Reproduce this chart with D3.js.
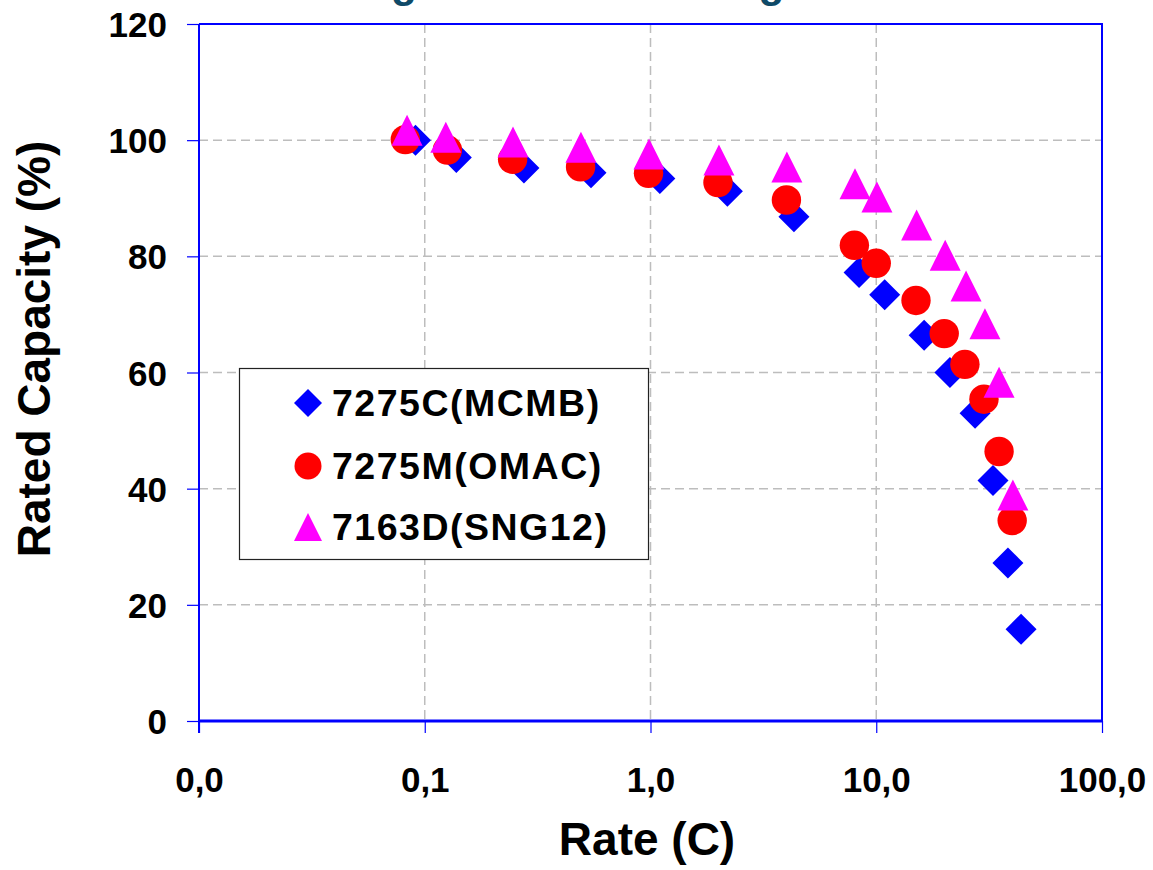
<!DOCTYPE html>
<html><head><meta charset="utf-8">
<script src="https://cdn.jsdelivr.net/npm/d3@7"></script>
<style>
html,body{margin:0;padding:0;background:#fff;}
svg{display:block;font-family:"Liberation Sans",Arial,sans-serif;}
</style></head>
<body>
<svg id="chart" width="1153" height="870"></svg>
<script>
// ---- data ----
const seriesNames = ["7275C(MCMB)", "7275M(OMAC)", "7163D(SNG12)"];
const rateC = [0.091, 0.138, 0.275, 0.545, 1.10, 2.19, 4.32, 8.39, 10.9, 16.3, 21.2, 27.4, 32.9, 38.3, 43.8];
const capC  = [100.0, 97.0, 95.2, 94.4, 93.4, 91.2, 86.8, 77.2, 73.4, 66.4, 60.0, 53.0, 41.4, 27.2, 15.8];
const rateM = [0.082, 0.126, 0.245, 0.49, 0.98, 1.99, 4.0, 8.0, 10.0, 15.0, 20.0, 24.7, 30.0, 35.0, 40.0];
const capM  = [100.1, 98.3, 96.7, 95.4, 94.3, 92.7, 89.7, 81.9, 78.8, 72.4, 66.7, 61.4, 55.4, 46.4, 34.5];
const rateD = [0.0835, 0.124, 0.246, 0.492, 0.985, 2.01, 4.02, 8.05, 10.07, 15.1, 20.2, 25.0, 30.3, 35.0, 40.3];
const capD  = [101.7, 100.5, 99.7, 98.8, 97.6, 96.6, 95.4, 92.5, 90.2, 85.4, 80.2, 74.9, 68.4, 58.3, 38.9];
const xTicks = [0.01, 0.1, 1, 10, 100];
const yTicks = [0, 20, 40, 60, 80, 100, 120];
const titleText = "Rating of New Cell Designs";

// ---- layout ----
const svg = d3.select("#chart");
const L = 199, R = 1102, T = 24, B = 721;
const x = d3.scaleLog().domain([0.01, 100]).range([L, R]);
const y = d3.scaleLinear().domain([0, 120]).range([B, T]);
const blue = "#0000ff";

// clipped title (only descenders visible)
svg.append("text").attr("x", 285).attr("y", -3)
  .attr("font-size", 42.4).attr("font-weight", "bold").attr("fill", "#0f4a68")
  .text(titleText);

// gridlines
const grid = svg.append("g");
grid.selectAll("line.h").data(yTicks.filter(v => v > 0 && v < 120)).join("line")
  .attr("x1", L).attr("x2", R).attr("y1", d => y(d)).attr("y2", d => y(d))
  .attr("stroke", "#bdbdbd").attr("stroke-width", 1.5).attr("stroke-dasharray", "9,5");
grid.selectAll("line.v").data(xTicks.slice(1, -1)).join("line")
  .attr("y1", T).attr("y2", B).attr("x1", d => x(d)).attr("x2", d => x(d))
  .attr("stroke", "#bdbdbd").attr("stroke-width", 1.5).attr("stroke-dasharray", "9,5");

// top/right border
svg.append("path").attr("d", `M${L},${T}H${R}V${B}`).attr("fill", "none")
  .attr("stroke", blue).attr("stroke-width", 2);

// x axis
const xAxis = d3.axisBottom(x).tickValues(xTicks).tickSize(12).tickSizeOuter(0)
  .tickFormat(d => d3.format(".1f")(d).replace(".", ","));
const gx = svg.append("g").attr("transform", `translate(0,${B})`).call(xAxis);
gx.select(".domain").remove();
gx.selectAll(".tick line").attr("stroke", blue).attr("stroke-width", 1.2);
gx.selectAll(".tick text").attr("y", 71).attr("dy", 0).attr("fill", "#000")
  .attr("font-size", 35).attr("font-weight", "bold").attr("font-family", "Liberation Sans, Arial, sans-serif");
svg.append("line").attr("x1", L).attr("x2", R).attr("y1", B).attr("y2", B)
  .attr("stroke", blue).attr("stroke-width", 3);

// y axis
const yAxis = d3.axisLeft(y).tickValues(yTicks).tickSize(12).tickSizeOuter(0).tickFormat(d3.format("d"));
const gy = svg.append("g").attr("transform", `translate(${L},0)`).call(yAxis);
gy.select(".domain").remove();
gy.selectAll(".tick line").attr("stroke", blue).attr("stroke-width", 1.2);
gy.selectAll(".tick text").attr("x", -32).attr("dy", "0.36em").attr("fill", "#000")
  .attr("font-size", 35).attr("font-weight", "bold").attr("font-family", "Liberation Sans, Arial, sans-serif");
svg.append("line").attr("x1", L).attr("x2", L).attr("y1", T).attr("y2", B + 12)
  .attr("stroke", blue).attr("stroke-width", 2);

// axis titles
svg.append("text").attr("x", 647).attr("y", 855).attr("text-anchor", "middle")
  .attr("font-size", 46).attr("font-weight", "bold").text("Rate (C)");
svg.append("text").attr("transform", "translate(50,349) rotate(-90)").attr("text-anchor", "middle")
  .attr("font-size", 46).attr("font-weight", "bold").text("Rated Capacity (%)");

// markers
const diamond = s => `M0,${-s}L${s},0L0,${s}L${-s},0Z`;
const triangle = (w, h) => `M0,${-h/2}L${w/2},${h/2}L${-w/2},${h/2}Z`;
const toPts = (xs, ys) => xs.map((v, i) => ({r: v, c: ys[i]}));

svg.append("g").selectAll("path").data(toPts(rateC, capC)).join("path")
  .attr("d", diamond(15.5)).attr("fill", blue)
  .attr("transform", d => `translate(${x(d.r)},${y(d.c)})`);
svg.append("g").selectAll("circle").data(toPts(rateM, capM)).join("circle")
  .attr("cx", d => x(d.r)).attr("cy", d => y(d.c)).attr("r", 14.7).attr("fill", "#ff0000");
svg.append("g").selectAll("path").data(toPts(rateD, capD)).join("path")
  .attr("d", triangle(31, 31)).attr("fill", "#ff00ff")
  .attr("transform", d => `translate(${x(d.r)},${y(d.c)})`);

// legend
const lg = svg.append("g");
lg.append("rect").attr("x", 239.5).attr("y", 368.5).attr("width", 409).attr("height", 191)
  .attr("fill", "#fff").attr("stroke", "#222").attr("stroke-width", 1.2);
const rows = [403, 466, 527];
lg.append("path").attr("d", diamond(14)).attr("fill", blue).attr("transform", `translate(308,${rows[0]})`);
lg.append("circle").attr("cx", 308).attr("cy", rows[1]).attr("r", 13.5).attr("fill", "#ff0000");
lg.append("path").attr("d", triangle(28, 28)).attr("fill", "#ff00ff").attr("transform", `translate(308,${rows[2]})`);
lg.selectAll("text").data(seriesNames).join("text")
  .attr("x", 332).attr("y", (d, i) => rows[i] + 12.5)
  .attr("font-size", 37.5).attr("font-weight", "bold").attr("letter-spacing", 1.5)
  .text(d => d);
</script>
</body></html>
